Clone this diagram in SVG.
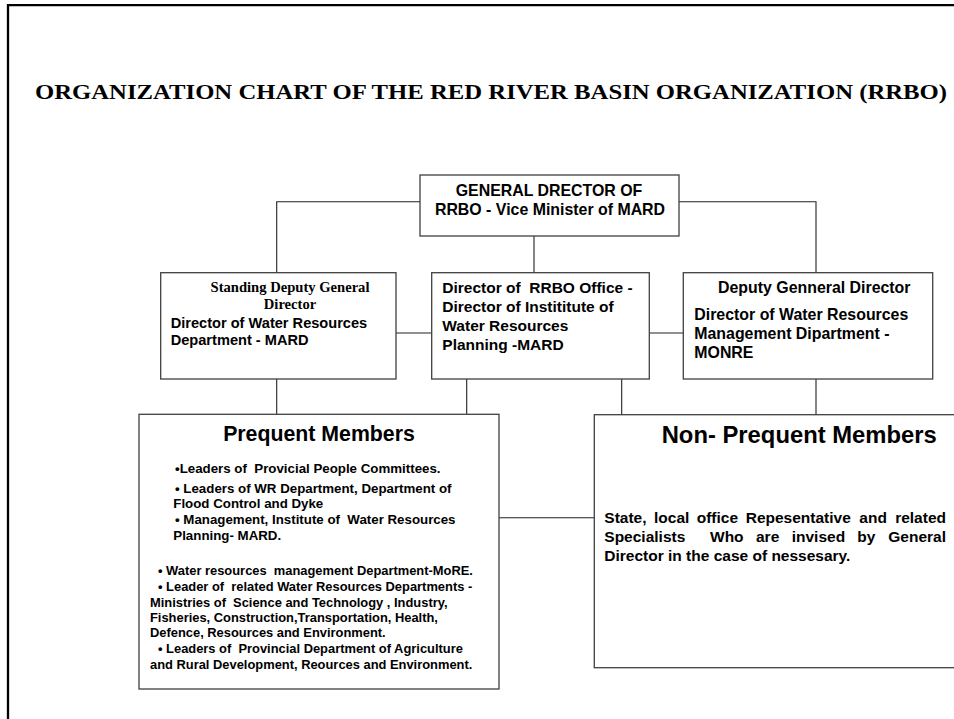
<svg xmlns="http://www.w3.org/2000/svg" width="954" height="719" viewBox="0 0 954 719">
<style>
.box{fill:#fff;stroke:#404040;stroke-width:1.3}
.con{fill:none;stroke:#222;stroke-width:1.1}
.s{font-family:"Liberation Sans",Arial,sans-serif;font-weight:bold;fill:#000;white-space:pre}
.r{font-family:"Liberation Serif","Times New Roman",serif;font-weight:bold;fill:#000}
.m{text-anchor:middle}
</style>
<rect width="954" height="719" fill="#fff"/>
<path d="M8,719 V5.2 H954" fill="none" stroke="#000" stroke-width="2.3"/>
<text class="r" x="35" y="99" font-size="20" textLength="912" lengthAdjust="spacingAndGlyphs">ORGANIZATION CHART OF THE RED RIVER BASIN ORGANIZATION (RRBO)</text>
<g id="connectors">
<path class="con" d="M534,236 V272.7"/>
<path class="con" d="M420,201.7 H276.7 V272.7"/>
<path class="con" d="M679,201.7 H816 V272.7"/>
<path class="con" d="M396,333 H431.7"/>
<path class="con" d="M649.3,333 H683.3"/>
<path class="con" d="M276.7,379 V414.3"/>
<path class="con" d="M466.7,379 V414.3"/>
<path class="con" d="M621.7,379 V414.7"/>
<path class="con" d="M816,379 V414.7"/>
<path class="con" d="M499,517.7 H594.3"/>
</g>
<g id="general-director">
<rect class="box" x="420" y="175" width="259" height="61"/>
<text class="s m" x="549" y="196" font-size="15.9">GENERAL DRECTOR OF</text>
<text class="s m" x="550" y="215" font-size="15.9">RRBO - Vice Minister of MARD</text>
</g>
<g id="standing-deputy">
<rect class="box" x="160.7" y="272.7" width="235.3" height="106.3"/>
<text class="r m" x="290" y="292" font-size="14.6">Standing Deputy General</text>
<text class="r m" x="290" y="309" font-size="14.6">Director</text>
<text class="s" x="170.7" y="327.5" font-size="14.6">Director of Water Resources</text>
<text class="s" x="170.7" y="345" font-size="14.6">Department - MARD</text>
</g>
<g id="rrbo-office">
<rect class="box" x="431.7" y="272.7" width="217.6" height="106.3"/>
<text class="s" x="442.3" y="293" font-size="15.5" xml:space="preserve">Director of  RRBO Office -</text>
<text class="s" x="442.3" y="312" font-size="15.5">Director of Instititute of</text>
<text class="s" x="442.3" y="331" font-size="15.5">Water Resources</text>
<text class="s" x="442.3" y="350" font-size="15.5">Planning -MARD</text>
</g>
<g id="deputy-general">
<rect class="box" x="683.3" y="272.7" width="249.4" height="106.3"/>
<text class="s" x="718" y="293" font-size="15.9">Deputy Genneral Director</text>
<text class="s" x="694.3" y="320" font-size="15.9">Director of Water Resources</text>
<text class="s" x="694.3" y="339" font-size="15.9">Management Dipartment -</text>
<text class="s" x="694.3" y="358" font-size="15.9">MONRE</text>
</g>
<g id="prequent">
<rect class="box" x="139" y="414.3" width="360" height="274.7"/>
<text class="s m" x="319" y="440.5" font-size="21.3">Prequent Members</text>
<text class="s" x="175" y="472.7" font-size="13.3" xml:space="preserve">•Leaders of  Provicial People Committees.</text>
<text class="s" x="175" y="492.7" font-size="13.3">• Leaders of WR Department, Department of</text>
<text class="s" x="173.3" y="508.3" font-size="13.3">Flood Control and Dyke</text>
<text class="s" x="175" y="524.3" font-size="13.3" xml:space="preserve">• Management, Institute of  Water Resources</text>
<text class="s" x="173.3" y="540" font-size="13.3">Planning- MARD.</text>
<text class="s" x="158" y="575" font-size="12.9" xml:space="preserve">• Water resources  management Department-MoRE.</text>
<text class="s" x="158" y="591" font-size="12.9" xml:space="preserve">• Leader of  related Water Resources Departments -</text>
<text class="s" x="150" y="606.7" font-size="12.9" xml:space="preserve">Ministries of  Science and Technology , Industry,</text>
<text class="s" x="150" y="621.7" font-size="12.9">Fisheries, Construction,Transportation, Health,</text>
<text class="s" x="150" y="637.3" font-size="12.9">Defence, Resources and Environment.</text>
<text class="s" x="158" y="653.3" font-size="12.9" xml:space="preserve">• Leaders of  Provincial Department of Agriculture</text>
<text class="s" x="150" y="669" font-size="12.9">and Rural Development, Reources and Environment.</text>
</g>
<g id="non-prequent">
<rect class="box" x="594.3" y="414.7" width="370" height="253"/>
<text class="s" x="661.7" y="442.7" font-size="23.8">Non- Prequent Members</text>
<text class="s" y="523.3" font-size="15.5"><tspan x="604.3">State,</tspan><tspan x="654">local</tspan><tspan x="696.7">office</tspan><tspan x="745.7">Repesentative</tspan><tspan x="859.3">and</tspan><tspan x="946" text-anchor="end">related</tspan></text>
<text class="s" y="541.7" font-size="15.5"><tspan x="604.3">Specialists</tspan><tspan x="710">Who</tspan><tspan x="756">are</tspan><tspan x="791.7">invised</tspan><tspan x="857.3">by</tspan><tspan x="946" text-anchor="end">General</tspan></text>
<text class="s" x="604.3" y="561" font-size="15.5">Director in the case of nessesary.</text>
</g>
</svg>
